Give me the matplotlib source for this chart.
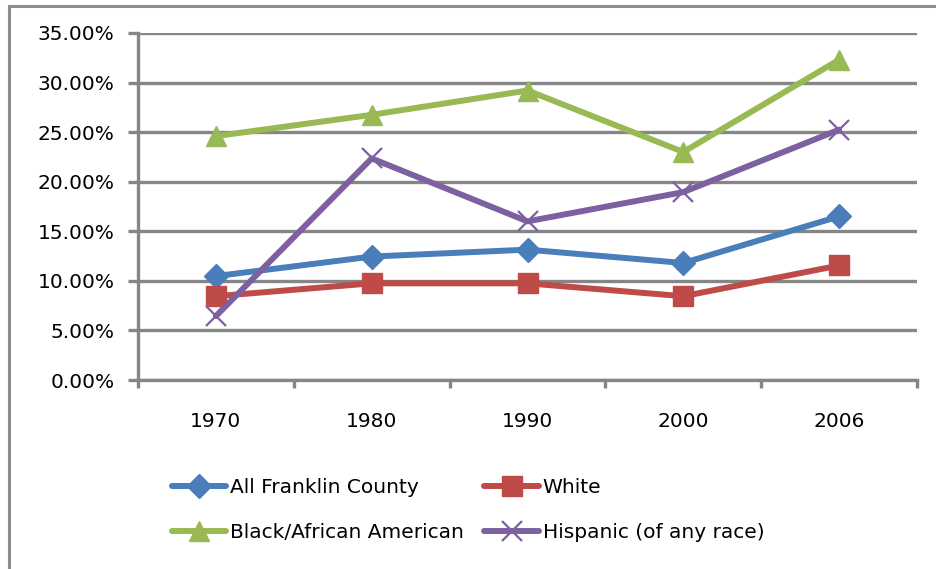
import matplotlib
matplotlib.use('Agg')
import matplotlib.pyplot as plt
from matplotlib.patches import Rectangle
from matplotlib.ticker import FuncFormatter, FixedLocator

years = ['1970', '1980', '1990', '2000', '2006']
all_county = [0.1048, 0.1245, 0.1315, 0.1180, 0.1650]
white = [0.0845, 0.0975, 0.0975, 0.0845, 0.1155]
black = [0.2460, 0.2675, 0.2920, 0.2300, 0.3230]
hispanic = [0.0645, 0.2235, 0.1600, 0.1895, 0.2525]

series = [
    ('All Franklin County', all_county, '#4A7EBB', 'D', 12.5),
    ('White', white, '#BE4B48', 's', 14),
    ('Black/African American', black, '#98B954', '^', 15),
    ('Hispanic (of any race)', hispanic, '#7D60A0', 'x', 14.5),
]

grid_col = '#868686'
fs = 14.5

fig = plt.figure(figsize=(9.36, 5.69), dpi=100)
fig.patches.append(Rectangle((9 / 936, -0.05), 1.1, 1 - 6 / 569 + 0.05,
                             transform=fig.transFigure, fill=False,
                             edgecolor='#8c8c8c', linewidth=2.2, clip_on=False))

ax = fig.add_axes([138 / 936, 1 - 380 / 569, (917 - 138) / 936, (380 - 33) / 569])
x = list(range(len(years)))

handles = []
for name, vals, col, mk, ms in series:
    if mk == 'x':
        h, = ax.plot(x, vals, color=col, lw=4.3, marker=mk, ms=ms, mew=1.6,
                     label=name, solid_capstyle='round', zorder=3)
    else:
        h, = ax.plot(x, vals, color=col, lw=4.3, marker=mk, ms=ms, mec=col,
                     label=name, solid_capstyle='round', zorder=3)
    handles.append(h)

ax.set_xlim(-0.5, 4.5)
ax.set_ylim(0, 0.35)
ax.set_yticks([i * 0.05 for i in range(8)])
ax.yaxis.set_major_formatter(FuncFormatter(lambda v, p: '%.2f%%' % (v * 100)))
ax.grid(axis='y', color=grid_col, lw=2.4)
ax.set_axisbelow(True)

ax.set_xticks(x)
ax.set_xticklabels(years)
ax.xaxis.set_minor_locator(FixedLocator([i - 0.5 for i in range(6)]))
ax.tick_params(axis='x', which='major', length=0, pad=23, labelsize=fs)
ax.tick_params(axis='x', which='minor', length=6, width=2.4, color=grid_col)
ax.tick_params(axis='y', length=7, width=2.4, color=grid_col, labelsize=fs, pad=10)

for s in ['top', 'right']:
    ax.spines[s].set_visible(False)
ax.spines['left'].set_color(grid_col)
ax.spines['left'].set_linewidth(2.4)
ax.spines['bottom'].set_color(grid_col)
ax.spines['bottom'].set_linewidth(2.4)

# legend fills column-first, so reorder to get rows: All/White, Black/Hispanic
order = [0, 2, 1, 3]
leg = fig.legend([handles[i] for i in order], [series[i][0] for i in order],
                 loc='center left', bbox_to_anchor=(172 / 936, 1 - 510 / 569),
                 ncol=2, frameon=False, fontsize=fs, handlelength=2.7,
                 handletextpad=0.2, columnspacing=1.0, labelspacing=1.3,
                 borderpad=0, borderaxespad=0)

fig.savefig('out.png', dpi=100)
